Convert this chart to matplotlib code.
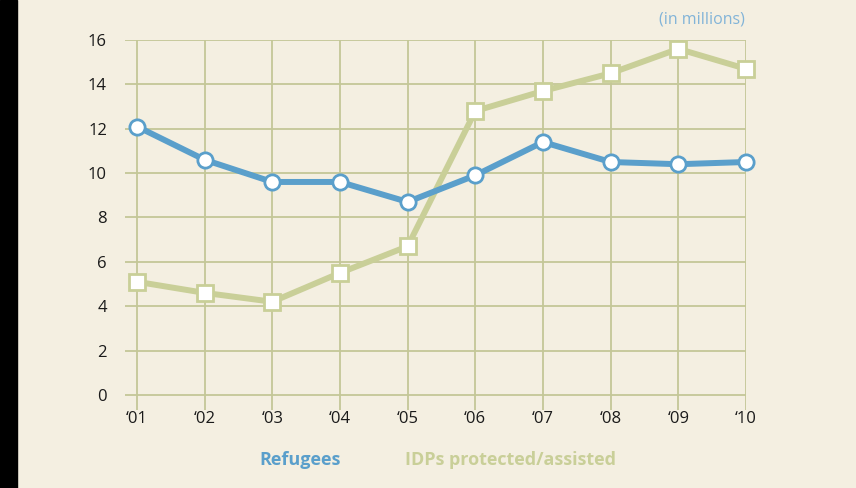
"""refugees vs IDPs line chart"""
import matplotlib
matplotlib.use("Agg")
import matplotlib.pyplot as plt
from matplotlib.patches import Rectangle

plt.rcParams["font.family"] = ["Open Sans", "DejaVu Sans"]

years = ["\u201801", "\u201802", "\u201803", "\u201804", "\u201805",
         "\u201806", "\u201807", "\u201808", "\u201809", "\u201810"]
refugees = [12.1, 10.6, 9.6, 9.6, 8.7, 9.9, 11.4, 10.5, 10.4, 10.5]
idps = [5.1, 4.6, 4.2, 5.5, 6.7, 12.8, 13.7, 14.5, 15.6, 14.7]
y_ticks = [0, 2, 4, 6, 8, 10, 12, 14, 16]

BG = "#F4EFE1"
BLUE = "#5A9FCB"
GREEN = "#C9CF98"
GRID = "#C4C797"

fig = plt.figure(figsize=(8.56, 4.88), dpi=100, facecolor=BG)
fig.patches.append(Rectangle((0, 0), 17 / 856, 1, transform=fig.transFigure,
                             color="black", zorder=0))

ax = fig.add_axes([125 / 856, 78 / 488, 621 / 856, 370 / 488])
ax.set_facecolor(BG)
x = list(range(len(years)))

ax.plot(x, idps, color=GREEN, lw=4.3, marker="s", ms=11, mfc="white",
        mec=GREEN, mew=2, clip_on=False, zorder=3)
ax.plot(x, refugees, color=BLUE, lw=4.3, marker="o", ms=11, mfc="white",
        mec=BLUE, mew=2, clip_on=False, zorder=4)

ax.set_xlim(-0.177, 9)
ax.set_ylim(-0.68, 16)
ax.set_xticks(x)
ax.set_xticklabels(years)
ax.set_yticks(y_ticks)
ax.grid(True, color=GRID, lw=1.3)
ax.set_axisbelow(True)
for s in ax.spines.values():
    s.set_visible(False)
ax.tick_params(length=0, labelsize=12, labelcolor="#1a1a1a")
ax.tick_params(axis="y", pad=13)
ax.tick_params(axis="x", pad=1)

fig.text(702 / 856, 1 - 20 / 488, "(in millions)", color="#82B4D8",
         fontsize=11.5, ha="center", va="center")
fig.text(300 / 856, 1 - 460 / 488, "Refugees", color=BLUE, fontsize=13,
         fontweight="bold", ha="center", va="center")
fig.text(510 / 856, 1 - 460 / 488, "IDPs protected/assisted", color=GREEN,
         fontsize=13, fontweight="bold", ha="center", va="center")

fig.savefig("out.png", dpi=100, facecolor=BG)
